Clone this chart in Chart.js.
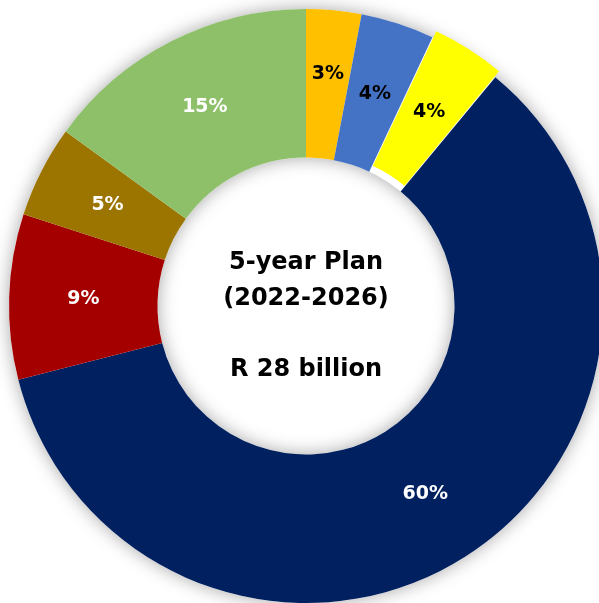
<!DOCTYPE html>
<html>
<head>
<meta charset="utf-8">
<script src="https://cdn.jsdelivr.net/npm/chart.js@4.4.1/dist/chart.umd.min.js"></script>
<style>
    html, body { margin: 0; padding: 0; background: #ffffff; overflow: hidden; }
    #wrap { position: absolute; left: 0; top: 0; width: 612px; height: 612px; }
</style>
</head>
<body>
<div id="wrap"><canvas id="planChart" width="612" height="612"></canvas></div>
<script>
// Budget split, clockwise from 12 o'clock (percent)
const shares = [3, 4, 4, 60, 9, 5, 15];
const sliceColors = ['#FFC000', '#4472C4', '#FFFF00', '#002060', '#A50000', '#9C7400', '#8DC068'];
const labelColors = ['#000000', '#000000', '#000000', '#ffffff', '#ffffff', '#ffffff', '#ffffff'];
const sliceOffsets = [0, 0, 16, 0, 0, 0, 0]; // yellow wedge pulled out a little
const labelLift = [10, 0, 0, 0, 0, 0, 0];   // thin wedge: push its label toward the rim
const centerLines = ['5-year Plan', '(2022-2026)', '', 'R 28 billion'];

// soft glow behind the ring
const ringShadow = {
    id: 'ringShadow',
    beforeDatasetsDraw(chart) {
        const arc = chart.getDatasetMeta(0).data[0];
        if (!arc) return;
        const ctx = chart.ctx;
        ctx.save();
        ctx.shadowColor = 'rgba(0,0,0,0.35)';
        ctx.shadowBlur = 18;
        ctx.fillStyle = '#ffffff';
        ctx.beginPath();
        ctx.arc(arc.x, arc.y, arc.outerRadius, 0, Math.PI * 2);
        ctx.arc(arc.x, arc.y, arc.innerRadius, 0, Math.PI * 2, true);
        ctx.fill();
        ctx.restore();
    }
};

// percentage labels on each wedge + title in the hole
const ringText = {
    id: 'ringText',
    afterDatasetsDraw(chart) {
        const ctx = chart.ctx;
        const meta = chart.getDatasetMeta(0);
        ctx.save();
        ctx.font = 'bold 19px "DejaVu Sans"';
        ctx.textAlign = 'center';
        ctx.textBaseline = 'middle';
        meta.data.forEach((arc, i) => {
            const mid = (arc.startAngle + arc.endAngle) / 2;
            const r = (arc.innerRadius + arc.outerRadius) / 2 + sliceOffsets[i] * 0.44 + labelLift[i];
            ctx.fillStyle = labelColors[i];
            ctx.fillText(shares[i] + '%', arc.x + Math.cos(mid) * r, arc.y + Math.sin(mid) * r);
        });

        const c = meta.data[0];
        ctx.fillStyle = '#000000';
        ctx.font = 'bold 24px "DejaVu Sans"';
        ctx.textBaseline = 'alphabetic';
        centerLines.forEach((line, i) => {
            if (line) ctx.fillText(line, c.x, c.y - 37 + i * 35.5);
        });
        ctx.restore();
    }
};

new Chart(document.getElementById('planChart'), {
    type: 'doughnut',
    data: {
        datasets: [{
            data: shares,
            backgroundColor: sliceColors,
            borderWidth: 0,
            offset: sliceOffsets,
            hoverOffset: 0
        }]
    },
    options: {
        responsive: false,
        animation: false,
        radius: 297,
        cutout: '50%',
        layout: { padding: 0 },
        events: [],
        plugins: {
            legend: { display: false },
            tooltip: { enabled: false }
        }
    },
    plugins: [ringShadow, ringText]
});
</script>
</body>
</html>
